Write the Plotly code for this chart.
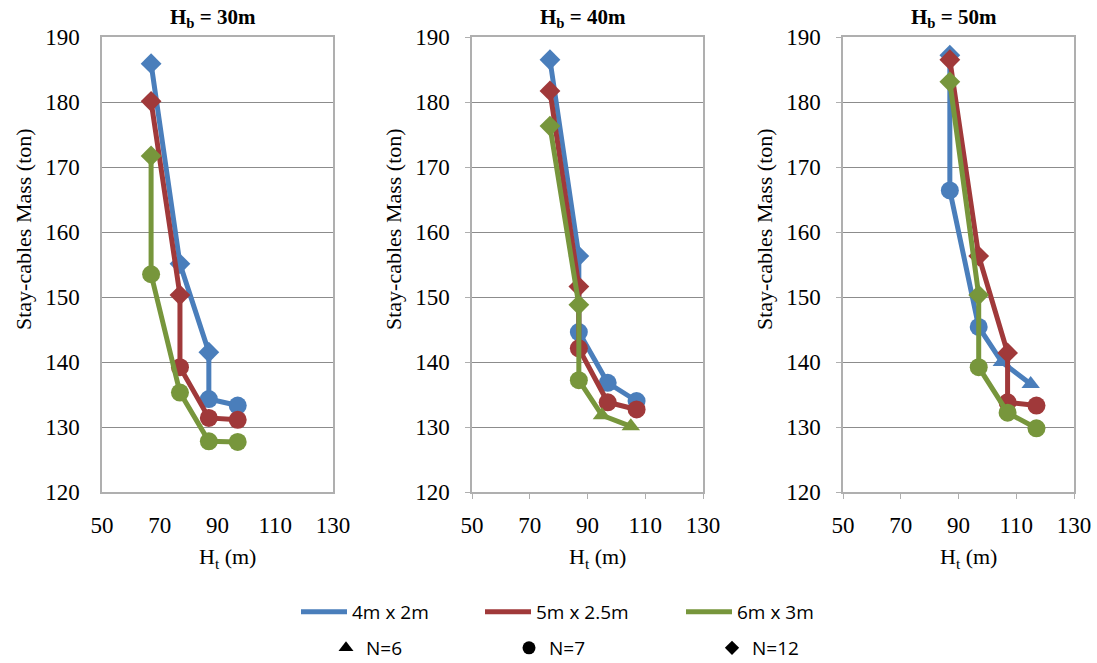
import plotly.graph_objects as go

W, H = 1097, 663

# ---------------- data ----------------
panel_titles = ["H<sub>b</sub> = 30m", "H<sub>b</sub> = 40m", "H<sub>b</sub> = 50m"]
series_names = ["4m x 2m", "5m x 2.5m", "6m x 3m"]
series_colors = ["#4A7EBB", "#A0393A", "#77963C"]

# Hb = 30 m
p1_blue_x = [67, 77, 87, 87, 97]
p1_blue_y = [185.9, 155.1, 141.5, 134.3, 133.3]
p1_blue_n = [12, 12, 12, 7, 7]
p1_red_x = [67, 77, 77, 87, 97]
p1_red_y = [180.1, 150.3, 139.2, 131.4, 131.1]
p1_red_n = [12, 12, 7, 7, 7]
p1_green_x = [67, 67, 77, 87, 97]
p1_green_y = [171.7, 153.5, 135.3, 127.8, 127.7]
p1_green_n = [12, 7, 7, 7, 7]

# Hb = 40 m
p2_blue_x = [77, 87, 87, 97, 107]
p2_blue_y = [186.5, 156.3, 144.6, 136.8, 134.0]
p2_blue_n = [12, 12, 7, 7, 7]
p2_red_x = [77, 87, 87, 97, 107]
p2_red_y = [181.7, 151.6, 142.1, 133.8, 132.7]
p2_red_n = [12, 12, 7, 7, 7]
p2_green_x = [77, 87, 87, 95, 105]
p2_green_y = [176.3, 148.8, 137.2, 131.8, 130.1]
p2_green_n = [12, 12, 7, 6, 6]

# Hb = 50 m
p3_blue_x = [87, 87, 97, 105, 115]
p3_blue_y = [187.2, 166.4, 145.4, 140.0, 136.6]
p3_blue_n = [12, 7, 7, 6, 6]
p3_red_x = [87, 97, 107, 107, 117]
p3_red_y = [186.5, 156.3, 141.4, 133.8, 133.3]
p3_red_n = [12, 12, 12, 7, 7]
p3_green_x = [87, 97, 97, 107, 117]
p3_green_y = [183.1, 150.3, 139.2, 132.2, 129.8]
p3_green_n = [12, 12, 7, 7, 7]

x_ticks = [50, 70, 90, 110, 130]
y_ticks = [120, 130, 140, 150, 160, 170, 180, 190]

n_labels = {6: "N=6", 7: "N=7", 12: "N=12"}
n_symbols = {6: "triangle-up", 7: "circle", 12: "diamond"}
n_sizes = {6: 16, 7: 18, 12: 16}

panels = [
    [(p1_blue_x, p1_blue_y, p1_blue_n), (p1_red_x, p1_red_y, p1_red_n), (p1_green_x, p1_green_y, p1_green_n)],
    [(p2_blue_x, p2_blue_y, p2_blue_n), (p2_red_x, p2_red_y, p2_red_n), (p2_green_x, p2_green_y, p2_green_n)],
    [(p3_blue_x, p3_blue_y, p3_blue_n), (p3_red_x, p3_red_y, p3_red_n), (p3_green_x, p3_green_y, p3_green_n)],
]

# ---------------- layout geometry (screen pixels) ----------------
plot_left = [102, 472, 843]
plot_w = 231
plot_top, plot_bottom = 37, 492

def px(x):
    return x / W

def py(y):
    return 1 - y / H

fig = go.Figure()

for i, panel in enumerate(panels):
    ax = "" if i == 0 else str(i + 1)
    for j, (xs, ys, ns) in enumerate(panel):
        fig.add_trace(go.Scatter(
            x=xs, y=ys, mode="lines+markers",
            xaxis="x" + ax, yaxis="y" + ax,
            line=dict(color=series_colors[j], width=5),
            marker=dict(color=series_colors[j], opacity=1,
                        symbol=[n_symbols[n] for n in ns],
                        size=[n_sizes[n] for n in ns],
                        line=dict(width=0)),
            showlegend=False, hoverinfo="x+y",
        ))

grid_col = "#8C8C8C"
border_col = "#AFAFAF"
tick_font = dict(family="Liberation Serif", size=23, color="black")

layout = dict(
    width=W, height=H,
    margin=dict(l=0, r=0, t=0, b=0, autoexpand=False),
    paper_bgcolor="white", plot_bgcolor="white",
    showlegend=True,
)

for i in range(3):
    ax = "" if i == 0 else str(i + 1)
    ticks = "" if i == 0 else "outside"
    layout["xaxis" + ax] = dict(
        domain=[px(plot_left[i]), px(plot_left[i] + plot_w)],
        range=[50, 130], tickvals=x_ticks, showgrid=False,
        showline=True, linecolor=border_col, linewidth=1.5, mirror=True,
        ticks=ticks, ticklen=5, tickcolor=border_col,
        tickfont=tick_font, zeroline=False, anchor="y" + ax,
        ticklabelstandoff=12 if i == 0 else 7, automargin=False,
    )
    layout["yaxis" + ax] = dict(
        domain=[py(plot_bottom), py(plot_top)],
        range=[120, 190], tickvals=y_ticks, showgrid=True,
        gridcolor=grid_col, gridwidth=1.3,
        showline=True, linecolor=border_col, linewidth=1.5, mirror=True,
        ticks=ticks, ticklen=5, tickcolor=border_col,
        tickfont=tick_font, zeroline=False, anchor="x" + ax,
        ticklabelstandoff=16 if i == 0 else 11, automargin=False,
    )

annotations = []
for i in range(3):
    cx = plot_left[i] + plot_w / 2
    annotations.append(dict(
        text="<b>" + panel_titles[i] + "</b>", x=px(cx - 5), y=py(18),
        xref="paper", yref="paper", showarrow=False,
        xanchor="center", yanchor="middle",
        font=dict(family="Liberation Serif", size=21, color="black")))
    annotations.append(dict(
        text="H<sub>t</sub> (m)", x=px(cx + 10), y=py(558),
        xref="paper", yref="paper", showarrow=False,
        xanchor="center", yanchor="middle",
        font=dict(family="Liberation Serif", size=22, color="black")))
    annotations.append(dict(
        text="Stay-cables Mass (ton)", x=px(plot_left[i] - 79), y=py(229),
        xref="paper", yref="paper", showarrow=False, textangle=-90,
        xanchor="center", yanchor="middle",
        font=dict(family="Liberation Serif", size=22, color="black")))
layout["annotations"] = annotations

# ---------------- legends ----------------
legend_font = dict(family="Open Sans", size=19, color="black")
row1_x = [296, 480, 681]
row2_x = [326, 509, 712]
row1_y, row2_y = 612, 648

for j in range(3):
    name = "legend" if j == 0 else "legend" + str(j + 1)
    fig.add_trace(go.Scatter(
        x=[None], y=[None], mode="lines", name=series_names[j],
        line=dict(color=series_colors[j], width=5), legend=name,
        showlegend=True))
    layout[name] = dict(x=px(row1_x[j]), y=py(row1_y), xanchor="left", yanchor="middle",
                        orientation="h", font=legend_font, itemwidth=46,
                        bgcolor="rgba(0,0,0,0)", borderwidth=0)

for k, n in enumerate([6, 7, 12]):
    name = "legend" + str(k + 4)
    fig.add_trace(go.Scatter(
        x=[None], y=[None], mode="markers", name=n_labels[n],
        marker=dict(color="black", symbol=n_symbols[n],
                    size={6: 13, 7: 13, 12: 11}[n]),
        legend=name, showlegend=True))
    layout[name] = dict(x=px(row2_x[k]), y=py(row2_y), xanchor="left", yanchor="middle",
                        orientation="h", font=legend_font, itemwidth=30,
                        bgcolor="rgba(0,0,0,0)", borderwidth=0)

fig.update_layout(**layout)
# remove the browser's default 8px body margin so the figure sits at (0, 0)
fig.write_html("out.html",
               config={"displayModeBar": False},
               post_script="document.body.style.margin='0px';document.body.style.overflow='hidden';")
